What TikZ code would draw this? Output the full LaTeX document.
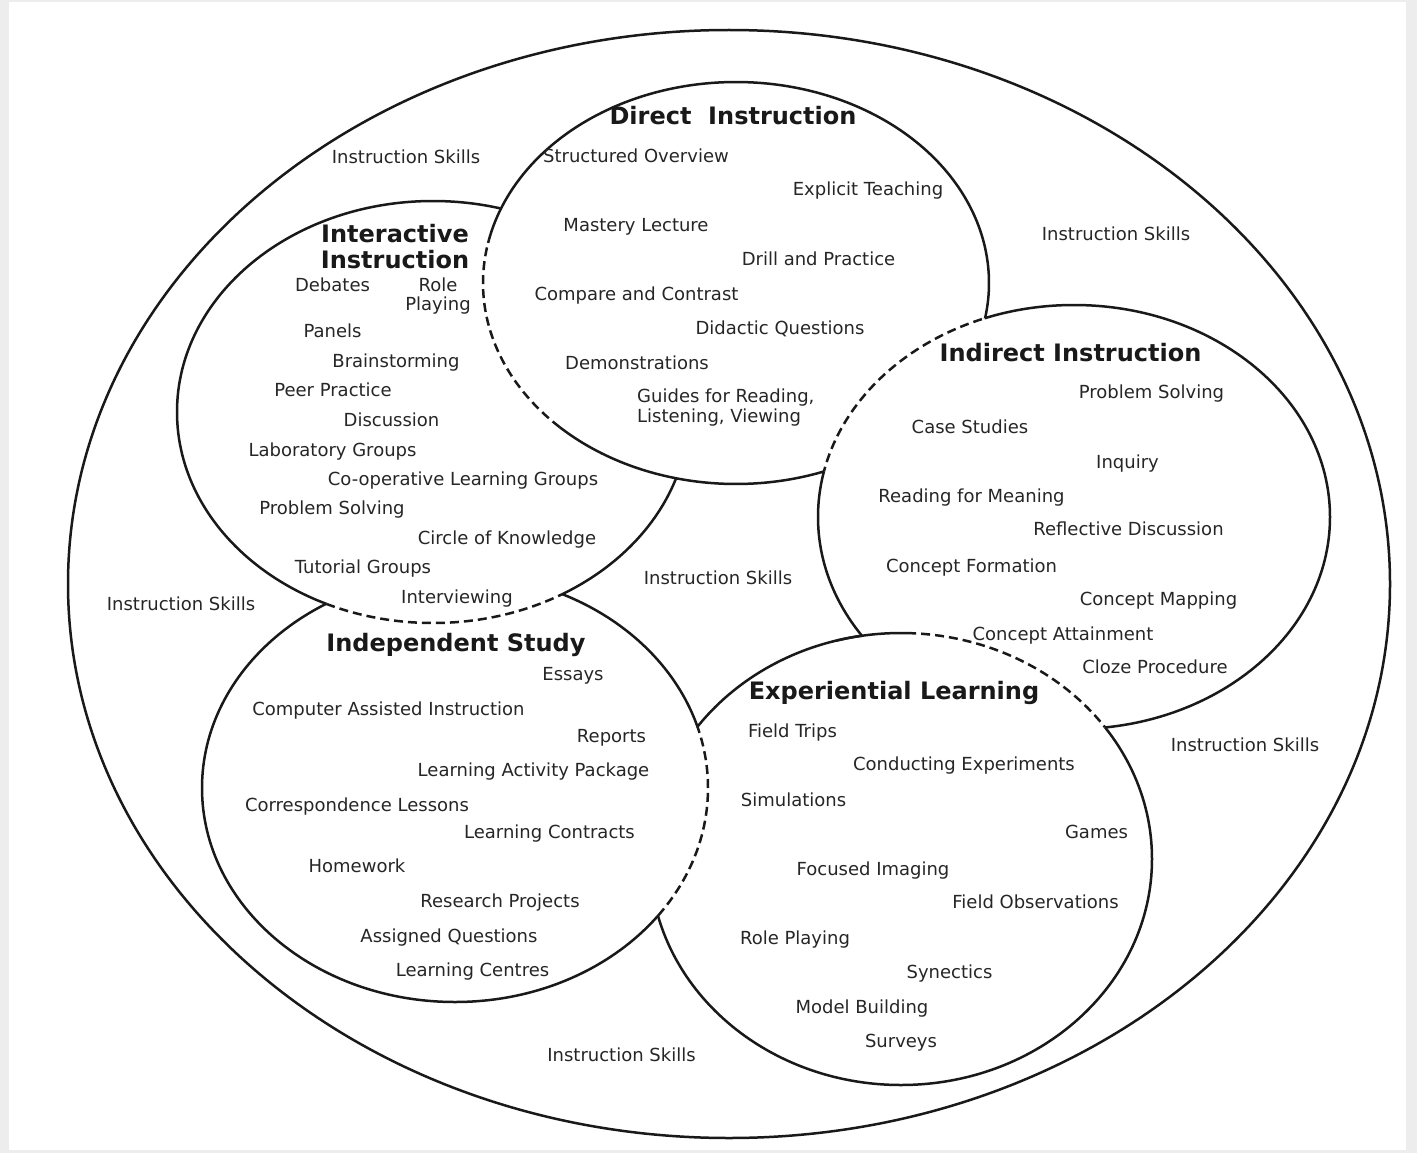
\documentclass[tikz,border=0pt]{standalone}
\usepackage{fontspec}
\newfontfamily\dvfont{DejaVu Sans}
\newcommand\outsideof[4]{\clip (-50,-50) rectangle (1500,1250) (#1,#2) ellipse [x radius=#3pt, y radius=#4pt];}
\newcommand\insideof[4]{\clip (#1,#2) ellipse [x radius=#3pt, y radius=#4pt];}
\newcommand\ellarc[6]{plot[domain=#5:#6, samples=300, variable=\t] ({#1+#3*cos(\t)},{#2+#4*sin(\t)})}
\begin{document}
\begin{tikzpicture}[x=1pt,y=-1pt,
  bd/.style={line width=2.5pt, line join=round, black!90},
  dbd/.style={line width=2.5pt, dash pattern=on 9pt off 5pt, black!90},
  item/.style={font=\dvfont\fontsize{18}{20}\selectfont, inner sep=0pt, text height=13.1pt, text depth=0pt, text=black!85},
  itemml/.style={font=\dvfont\fontsize{18}{20}\selectfont, inner sep=0pt, text=black!85},
  ttl/.style={font=\dvfont\bfseries\fontsize{24}{26}\selectfont, inner sep=0pt, text height=17.5pt, text depth=0pt, text=black!90},
  ttlml/.style={font=\dvfont\bfseries\fontsize{24}{26}\selectfont, inner sep=0pt, align=center, text=black!90},
]
\useasboundingbox (0,0) rectangle (1417,1153);
\fill[black!7] (0,0) rectangle (1417,1153);
\fill[white] (9,2) rectangle (1406,1150);

% outer ellipse
\draw[bd] (729,584) ellipse [x radius=661pt, y radius=554pt];

% Direct Instruction (D)
\begin{scope}[even odd rule]
  \outsideof{1074}{517}{256}{212}
  \draw[bd] \ellarc{736}{283}{253}{201}{191.5}{494.2};
\end{scope}
\draw[dbd] \ellarc{736}{283}{253}{201}{134.2}{191.5};

% Interactive Instruction (I)
\begin{scope}[even odd rule]
  \outsideof{736}{283}{253}{201}
  \outsideof{455}{788}{253}{214}
  \draw[bd] (433,412) ellipse [x radius=256pt, y radius=211pt];
\end{scope}
\begin{scope}
  \insideof{455}{788}{253}{214}
  \draw[dbd] (433,412) ellipse [x radius=256pt, y radius=211pt];
\end{scope}

% Indirect Instruction (N)
\begin{scope}[even odd rule]
  \outsideof{901}{859}{251}{226}
  \outsideof{736}{283}{253}{201}
  \draw[bd] (1074,517) ellipse [x radius=256pt, y radius=212pt];
\end{scope}
\begin{scope}
  \insideof{736}{283}{253}{201}
  \draw[dbd] (1074,517) ellipse [x radius=256pt, y radius=212pt];
\end{scope}

% Independent Study (S)
\begin{scope}[even odd rule]
  \outsideof{433}{412}{256}{211}
  \outsideof{901}{859}{251}{226}
  \draw[bd] (455,788) ellipse [x radius=253pt, y radius=214pt];
\end{scope}
\begin{scope}
  \insideof{901}{859}{251}{226}
  \draw[dbd] (455,788) ellipse [x radius=253pt, y radius=214pt];
\end{scope}

% Experiential Learning (E)
\begin{scope}[even odd rule]
  \outsideof{455}{788}{253}{214}
  \outsideof{1074}{517}{256}{212}
  \draw[bd] (901,859) ellipse [x radius=251pt, y radius=226pt];
\end{scope}
\draw[bd] \ellarc{901}{859}{251}{226}{255}{271.4};
\begin{scope}
  \insideof{1074}{517}{256}{212}
  \draw[dbd] \ellarc{901}{859}{251}{226}{271.4}{360};
\end{scope}

% ---- Direct Instruction texts
\node[ttl] (dT) at (733,116) {Direct\ \ Instruction};
\node[item] (d1) at (636,156) {Structured Overview};
\node[item] (d2) at (868,189) {Explicit Teaching};
\node[item] (d3) at (636,225) {Mastery Lecture};
\node[item] (d4) at (818.5,259) {Drill and Practice};
\node[item] (d5) at (636.5,294) {Compare and Contrast};
\node[item] (d6) at (780,328) {Didactic Questions};
\node[item] (d7) at (637,363) {Demonstrations};
\node[itemml, align=left, anchor=west] (d8) at (637,408) {Guides for Reading,\\Listening, Viewing};

% ---- Interactive Instruction texts
\node[ttlml] (iT) at (395,247) {Interactive\\Instruction};
\node[item] (i1) at (332.5,285) {Debates};
\node[itemml, align=center, font=\dvfont\fontsize{18}{19}\selectfont] (i2) at (438,296) {Role\\Playing};
\node[item] (i3) at (332.5,331) {Panels};
\node[item] (i4) at (396,361) {Brainstorming};
\node[item] (i5) at (333,390) {Peer Practice};
\node[item] (i6) at (391.5,420) {Discussion};
\node[item] (i7) at (332.5,450) {Laboratory Groups};
\node[item] (i8) at (463,479) {Co-operative Learning Groups};
\node[item] (i9) at (332,508) {Problem Solving};
\node[item] (i10) at (507,538) {Circle of Knowledge};
\node[item] (i11) at (363,567) {Tutorial Groups};
\node[item] (i12) at (457,597) {Interviewing};

% ---- Indirect Instruction texts
\node[ttl] (nT) at (1070.5,353) {Indirect Instruction};
\node[item] (n1) at (1151.5,392) {Problem Solving};
\node[item] (n2) at (970,427) {Case Studies};
\node[item] (n3) at (1127.5,462) {Inquiry};
\node[item] (n4) at (971.5,496) {Reading for Meaning};
\node[item] (n5) at (1128.5,529) {Reflective Discussion};
\node[item] (n6) at (971.5,566) {Concept Formation};
\node[item] (n7) at (1158.5,599) {Concept Mapping};
\node[item] (n8) at (1063,634) {Concept Attainment};
\node[item] (n9) at (1155,667) {Cloze Procedure};

% ---- Independent Study texts
\node[ttl] (sT) at (456,643) {Independent Study};
\node[item] (s1) at (573,674) {Essays};
\node[item] (s2) at (388.5,709) {Computer Assisted Instruction};
\node[item] (s3) at (611.5,736) {Reports};
\node[item] (s4) at (533.5,770) {Learning Activity Package};
\node[item] (s5) at (357,805) {Correspondence Lessons};
\node[item] (s6) at (549.5,832) {Learning Contracts};
\node[item] (s7) at (357,866) {Homework};
\node[item] (s8) at (500,901) {Research Projects};
\node[item] (s9) at (449,936) {Assigned Questions};
\node[item] (s10) at (472.5,970) {Learning Centres};

% ---- Experiential Learning texts
\node[ttl] (eT) at (894,691) {Experiential Learning};
\node[item] (e1) at (792.5,731) {Field Trips};
\node[item] (e2) at (964,764) {Conducting Experiments};
\node[item] (e3) at (793.5,800) {Simulations};
\node[item] (e4) at (1096.5,832) {Games};
\node[item] (e5) at (873,869) {Focused Imaging};
\node[item] (e6) at (1035.5,902) {Field Observations};
\node[item] (e7) at (795,938) {Role Playing};
\node[item] (e8) at (949.5,972) {Synectics};
\node[item] (e9) at (862,1007) {Model Building};
\node[item] (e10) at (901,1041) {Surveys};

% ---- Instruction Skills
\node[item] (k1) at (406,157) {Instruction Skills};
\node[item] (k2) at (1116,234) {Instruction Skills};
\node[item] (k3) at (181,604) {Instruction Skills};
\node[item] (k4) at (718,578) {Instruction Skills};
\node[item] (k5) at (1245,745) {Instruction Skills};
\node[item] (k6) at (621.5,1055) {Instruction Skills};
\end{tikzpicture}
\end{document}
